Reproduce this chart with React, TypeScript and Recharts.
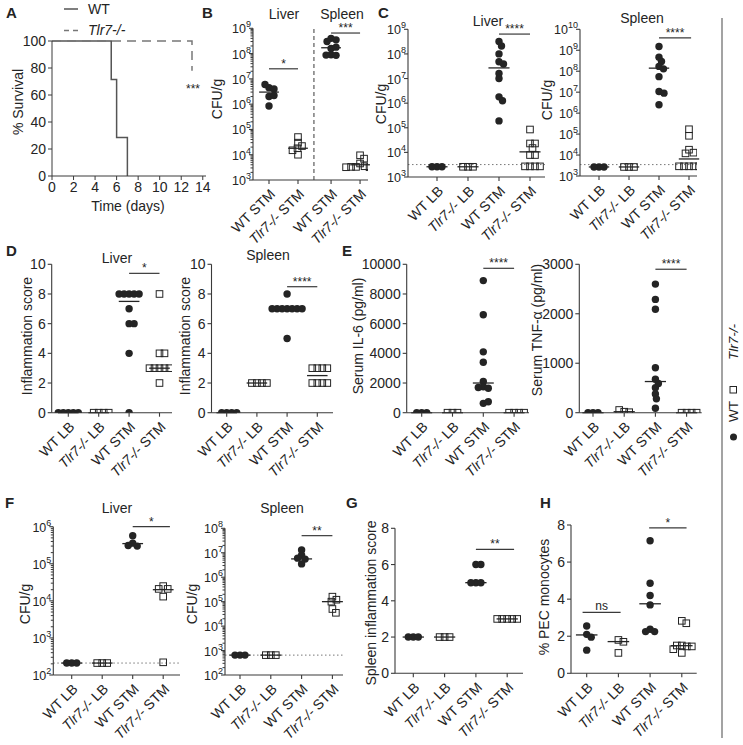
import React from 'react';
import { ScatterChart, Scatter, XAxis, YAxis, ReferenceLine, LineChart, Line } from 'recharts';

const W = 743;
const H = 745;
const FONT = '"Liberation Sans", Arial, Helvetica, sans-serif';
const INK = '#242424';
const AXIS = '#3a3a3a';

// ---------- category / tick labels ----------
const labelsFour = ['WT LB', 'Tlr7-/- LB', 'WT STM', 'Tlr7-/- STM'];
const labelsB = ['WT STM', 'Tlr7-/- STM', 'WT STM', 'Tlr7-/- STM'];
const survivalXTicks = [0, 2, 4, 6, 8, 10, 12, 14];
const survivalYTicks = [0, 20, 40, 60, 80, 100];
const scoreTicks10 = [0, 2, 4, 6, 8, 10];
const scoreTicks8 = [0, 2, 4, 6, 8];
const il6Ticks = [0, 2000, 4000, 6000, 8000, 10000];
const tnfTicks = [0, 1000, 2000, 3000];
const cfuMajors3to9 = [1e3, 1e4, 1e5, 1e6, 1e7, 1e8, 1e9];
const cfuMajors3to10 = [1e3, 1e4, 1e5, 1e6, 1e7, 1e8, 1e9, 1e10];
const cfuMajors2to6 = [1e2, 1e3, 1e4, 1e5, 1e6];
const cfuMajors2to8 = [1e2, 1e3, 1e4, 1e5, 1e6, 1e7, 1e8];

// ---------- A: survival ----------
const survivalWT = [
  { t: 0, s: 100 }, { t: 5.5, s: 100 }, { t: 5.5, s: 71.4 }, { t: 6, s: 71.4 },
  { t: 6, s: 28.6 }, { t: 7, s: 28.6 }, { t: 7, s: 0 },
];
const survivalKO = [{ t: 0, s: 100 }, { t: 13, s: 100 }, { t: 13, s: 78 }];

// ---------- B ----------
const bLiverWT = [4.5e6, 4.0e6, 6.0e6, 2.0e6, 2.2e6, 0.85e6];
const bLiverKO = [5e4, 3e4, 2.2e4, 1.8e4, 1.5e4, 1.0e4];
const bSpleenWT = [4e8, 3.5e8, 3e8, 1.6e8, 1.8e8, 9e7, 8.5e7, 8.7e7];
const bSpleenKO = [9.5e3, 7e3, 4.5e3, 3.5e3, 3.3e3, 3.3e3, 3.2e3, 3.2e3];
const bMedians = [3.0e6, 1.8e4, 1.7e8, 4.0e3];
const bSig = [
  { from: 0, to: 1, y: 2.5e7, text: '*' },
  { from: 2.14, to: 3.14, y: 6.5e8, text: '***' },
];

// ---------- C ----------
const cLiverWTLB = [2.6e3, 2.6e3, 2.6e3];
const cLiverKOLB = [2.6e3, 2.6e3, 2.6e3];
const cLiverWTSTM = [3.2e8, 2.1e8, 1.0e8, 4.8e7, 3.9e7, 1.6e7, 1.0e7, 1.8e6, 1.26e6, 1.9e5];
const cLiverKOSTM = [8.5e4, 2.3e4, 2.3e4, 1.5e4, 7.8e3, 7.8e3, 2.7e3, 2.7e3, 2.7e3, 2.7e3];
const cLiverMedians = [2.6e3, 2.6e3, 2.7e7, 1.05e4];
const cLiverLimit = 3.2e3;
const cLiverSig = [{ from: 2, to: 3, y: 6.4e8, text: '****' }];

const cSpleenWTLB = [2.7e3, 2.7e3, 2.7e3];
const cSpleenKOLB = [2.7e3, 2.7e3, 2.7e3];
const cSpleenWTSTM = [1.5e9, 4.7e8, 2.9e8, 1.7e8, 1.3e8, 5.5e7, 1.07e7, 9e6, 2.5e6];
const cSpleenKOSTM = [1.7e5, 8.3e4, 1.8e4, 1.3e4, 1.2e4, 2.9e3, 2.9e3, 2.9e3, 2.9e3, 2.9e3];
const cSpleenMedians = [2.7e3, 2.7e3, 1.4e8, 6.5e3];
const cSpleenLimit = 3.5e3;
const cSpleenSig = [{ from: 2, to: 3.07, y: 3.9e9, text: '****' }];

// ---------- D ----------
const dLiverWTLB = [0, 0, 0, 0, 0];
const dLiverKOLB = [0, 0, 0, 0];
const dLiverWTSTM = [8, 8, 8, 8, 8, 7, 6, 6, 4, 0];
const dLiverKOSTM = [8, 4, 4, 3, 3, 3, 3, 3, 2];
const dLiverMedians = [0, 0, 7.5, 3];
const dLiverSig = [{ from: 2, to: 3, y: 9.39, text: '*' }];

const dSpleenWTLB = [0, 0, 0, 0];
const dSpleenKOLB = [2, 2, 2, 2];
const dSpleenWTSTM = [8, 7, 7, 7, 7, 7, 7, 7, 5];
const dSpleenKOSTM = [3, 3, 3, 3, 2, 2, 2, 2];
const dSpleenMedians = [0, 2, 7, 2.5];
const dSpleenSig = [{ from: 2, to: 3, y: 8.49, text: '****' }];

// ---------- E ----------
const il6WTLB = [0, 0, 0];
const il6KOLB = [0, 0, 0];
const il6WTSTM = [8900, 6600, 4100, 3400, 2100, 1750, 1650, 1700, 630, 740];
const il6KOSTM = [0, 0, 0, 0];
const il6Medians = [0, 0, 2000, 0];
const il6Sig = [{ from: 2, to: 3, y: 9730, text: '****' }];

const tnfWTLB = [0, 0, 0];
const tnfKOLB = [20, 10, 55];
const tnfWTSTM = [2600, 2290, 2090, 910, 675, 590, 505, 380, 280, 90];
const tnfKOSTM = [0, 0, 0, 0];
const tnfMedians = [0, 20, 630, 0];
const tnfSig = [{ from: 2, to: 3, y: 2900, text: '****' }];

// ---------- F ----------
const fLiverWTLB = [2.1e2, 2.1e2, 2.1e2];
const fLiverKOLB = [2.1e2, 2.1e2, 2.1e2];
const fLiverWTSTM = [5.7e5, 3.6e5, 3.0e5, 3.1e5];
const fLiverKOSTM = [2.5e4, 2.1e4, 2.1e4, 1.3e4, 2.2e2];
const fLiverMedians = [2.1e2, 2.1e2, 3.5e5, 2.0e4];
const fLiverLimit = 2.1e2;
const fLiverSig = [{ from: 2, to: 3.22, y: 1e6, text: '*' }];

const fSpleenWTLB = [6.5e2, 6.5e2, 6.5e2];
const fSpleenKOLB = [6.5e2, 6.5e2, 6.5e2];
const fSpleenWTSTM = [1.3e7, 8e6, 5.5e6, 6e6, 3.5e6];
const fSpleenKOSTM = [1.6e5, 1.2e5, 1e5, 5e4, 3.5e4];
const fSpleenMedians = [6.5e2, 6.5e2, 5.6e6, 1e5];
const fSpleenLimit = 6.5e2;
const fSpleenSig = [{ from: 2, to: 3, y: 5e7, text: '**' }];

// ---------- G ----------
const gWTLB = [2, 2, 2];
const gKOLB = [2, 2, 2];
const gWTSTM = [6, 6, 5, 5, 5];
const gKOSTM = [3, 3, 3, 3, 3];
const gMedians = [2, 2, 5, 3];
const gSig = [{ from: 2, to: 3.22, y: 6.84, text: '**' }];

// ---------- H ----------
const hWTLB = [2.55, 2.1, 1.95, 1.25];
const hKOLB = [1.8, 1.7, 1.1];
const hWTSTM = [7.15, 4.86, 4.2, 3.69, 2.38, 2.25, 2.25];
const hKOSTM = [2.83, 2.7, 1.5, 1.45, 1.5, 1.3, 1.1, 1.45];
const hMedians = [2.07, 1.71, 3.75, 1.49];
const hSig = [
  { from: -0.13, to: 1.07, y: 3.29, text: 'ns' },
  { from: 1.97, to: 3.15, y: 7.85, text: '*' },
];

// ---------- layout helpers ----------
type Sig = { from: number; to: number; y: number; text: string };
type Panel = {
  left: number; right: number; top: number; bottom: number;
  first: number; sp: number; catPos: number[];
  log: boolean; yMin: number; yMax: number; ticks: number[]; minor?: boolean;
  labels: string[]; groups: number[][]; medians: number[]; limit?: number;
  sig: Sig[]; sep?: number;
};

function withMinors(majors: number[]): number[] {
  const out: number[] = [];
  majors.forEach((m, i) => {
    out.push(m);
    if (i < majors.length - 1) for (let k = 2; k <= 9; k++) out.push(m * k);
  });
  return out;
}

function swarm(values: number[], toPx: (v: number) => number, d: number): number[] {
  const placed: { x: number; y: number }[] = [];
  return values.map((v) => {
    const y = toPx(v);
    for (let k = 0; k < 600; k++) {
      const dx = (k % 2 === 1 ? 1 : -1) * Math.ceil(k / 2) * 0.5;
      if (placed.every((p) => (p.x - dx) ** 2 + (p.y - y) ** 2 >= d * d)) {
        placed.push({ x: dx, y });
        return dx;
      }
    }
    return 0;
  });
}

const DotShape = (p: any) => <circle cx={p.cx + (p.payload?.dx || 0)} cy={p.cy} r={3.7} fill={INK} />;
const SquareShape = (p: any) => (
  <rect x={p.cx + (p.payload?.dx || 0) - 3.3} y={p.cy - 3.3} width={6.6} height={6.6} fill="none" stroke={INK} strokeWidth={1} />
);

function labelContent(lab: string) {
  if (lab.startsWith('Tlr7-/-')) {
    return (
      <>
        <tspan fontStyle="italic">Tlr7-/-</tspan>
        <tspan>{lab.slice(7)}</tspan>
      </>
    );
  }
  return lab;
}

// axes need a non-zero size to be drawn, so one pixel is reserved for each
const AX = 1;
const TICK_FS = 14;
const LOG_FS = 12.5;

function StripChart({ p }: { p: Panel }) {
  const h = p.bottom - p.top;
  const l0 = Math.log10(p.yMin);
  const l1 = Math.log10(p.yMax);
  const toPx = (v: number) =>
    p.log ? p.bottom - ((Math.log10(v) - l0) / (l1 - l0)) * h : p.bottom - ((v - p.yMin) / (p.yMax - p.yMin)) * h;
  const wt: any[] = [];
  const ko: any[] = [];
  p.groups.forEach((vals, i) => {
    const dxs = swarm(vals, toPx, 5);
    vals.forEach((v, j) => (i % 2 === 0 ? wt : ko).push({ x: p.catPos[i], y: v, dx: dxs[j] }));
  });
  const xDomain = [(p.left - p.first) / p.sp, (p.right - p.first) / p.sp];
  const yTicks = p.log && p.minor ? withMinors(p.ticks) : p.ticks;

  const xTick = (props: any) => {
    const { x, payload } = props;
    const y = p.bottom;
    const idx = p.catPos.indexOf(payload.value);
    const lab = p.labels[idx] ?? '';
    return (
      <g transform={`translate(${x},${y})`}>
        <line x1={0} x2={0} y1={0} y2={4} stroke={AXIS} strokeWidth={1.1} />
        <text transform="translate(7,15) rotate(-45)" textAnchor="end" fontSize={TICK_FS} fill={INK} fontFamily={FONT}>
          {labelContent(lab)}
        </text>
      </g>
    );
  };
  const yTick = (props: any) => {
    const { y, payload } = props;
    const x = p.left;
    const v = payload.value;
    if (p.log) {
      const e = Math.log10(v);
      const major = Math.abs(e - Math.round(e)) < 1e-6;
      if (!major) return <line x1={x} x2={x - 2.5} y1={y} y2={y} stroke={AXIS} strokeWidth={1} />;
      return (
        <g>
          <line x1={x} x2={x - 4} y1={y} y2={y} stroke={AXIS} strokeWidth={1.1} />
          <text x={x - 2} y={y + 5} textAnchor="end" fontSize={LOG_FS} fill={INK} fontFamily={FONT}>
            10<tspan fontSize={9} dy={-6}>{Math.round(e)}</tspan>
          </text>
        </g>
      );
    }
    return (
      <g>
        <line x1={x} x2={x - 4} y1={y} y2={y} stroke={AXIS} strokeWidth={1.1} />
        <text x={x - 6} y={y + 5} textAnchor="end" fontSize={TICK_FS} fill={INK} fontFamily={FONT}>
          {String(v)}
        </text>
      </g>
    );
  };

  return (
    <div style={{ position: 'absolute', left: 0, top: 0 }}>
      <ScatterChart
        width={W}
        height={H}
        margin={{ left: p.left - AX, right: W - p.right, top: p.top, bottom: H - p.bottom - AX }}
      >
        <XAxis
          type="number"
          dataKey="x"
          domain={xDomain}
          ticks={p.catPos}
          interval={0}
          height={AX}
          tickSize={0}
          tickMargin={0}
          tickLine={false}
          tick={xTick}
          axisLine={{ stroke: AXIS, strokeWidth: 1.1 }}
          allowDataOverflow
        />
        <YAxis
          type="number"
          dataKey="y"
          scale={p.log ? 'log' : 'linear'}
          domain={[p.yMin, p.yMax]}
          ticks={yTicks}
          interval={0}
          width={AX}
          tickSize={0}
          tickMargin={0}
          tickLine={false}
          tick={yTick}
          axisLine={{ stroke: AXIS, strokeWidth: 1.1 }}
          allowDataOverflow
        />
        {p.limit !== undefined && (
          <ReferenceLine y={p.limit} stroke="#777" strokeDasharray="1.5 2.5" strokeWidth={1} ifOverflow="visible" />
        )}
        {p.sep !== undefined && (
          <ReferenceLine x={p.sep} stroke={AXIS} strokeDasharray="4 3" strokeWidth={1} ifOverflow="visible" />
        )}
        {p.medians.map((m, i) => (
          <ReferenceLine
            key={'m' + i}
            segment={[{ x: p.catPos[i] - 0.34, y: m }, { x: p.catPos[i] + 0.34, y: m }]}
            stroke={INK}
            strokeWidth={1.3}
            ifOverflow="visible"
          />
        ))}
        {p.sig.map((s, i) => (
          <ReferenceLine
            key={'s' + i}
            segment={[{ x: s.from, y: s.y }, { x: s.to, y: s.y }]}
            stroke={AXIS}
            strokeWidth={1.2}
            ifOverflow="visible"
            label={{ value: s.text, position: 'top', offset: s.text === 'ns' ? 2 : 1, fontSize: 12, fill: INK, fontFamily: FONT }}
          />
        ))}
        <Scatter data={wt} shape={DotShape} isAnimationActive={false} />
        <Scatter data={ko} shape={SquareShape} isAnimationActive={false} />
      </ScatterChart>
    </div>
  );
}

const panels: Panel[] = [
  {
    left: 253, right: 368, top: 28.3, bottom: 180, first: 269, sp: 29, catPos: [0, 1, 2.14, 3.14],
    log: true, yMin: 1e3, yMax: 1e9, ticks: cfuMajors3to9, minor: true, labels: labelsB,
    groups: [bLiverWT, bLiverKO, bSpleenWT, bSpleenKO], medians: bMedians, sig: bSig, sep: 1.55,
  },
  {
    left: 408, right: 545, top: 29.3, bottom: 177, first: 437, sp: 31, catPos: [0, 1, 2, 3],
    log: true, yMin: 1e3, yMax: 1e9, ticks: cfuMajors3to9, labels: labelsFour,
    groups: [cLiverWTLB, cLiverKOLB, cLiverWTSTM, cLiverKOSTM], medians: cLiverMedians, limit: cLiverLimit, sig: cLiverSig,
  },
  {
    left: 580, right: 697, top: 29.3, bottom: 176, first: 599, sp: 30, catPos: [0, 1, 2, 3],
    log: true, yMin: 1e3, yMax: 1e10, ticks: cfuMajors3to10, labels: labelsFour,
    groups: [cSpleenWTLB, cSpleenKOLB, cSpleenWTSTM, cSpleenKOSTM], medians: cSpleenMedians, limit: cSpleenLimit, sig: cSpleenSig,
  },
  {
    left: 51.7, right: 172, top: 264.3, bottom: 412.7, first: 68.3, sp: 30.4, catPos: [0, 1, 2, 3],
    log: false, yMin: 0, yMax: 10, ticks: scoreTicks10, labels: labelsFour,
    groups: [dLiverWTLB, dLiverKOLB, dLiverWTSTM, dLiverKOSTM], medians: dLiverMedians, sig: dLiverSig,
  },
  {
    left: 211.5, right: 333, top: 264.3, bottom: 412.7, first: 226.7, sp: 30.2, catPos: [0, 1, 2, 3],
    log: false, yMin: 0, yMax: 10, ticks: scoreTicks10, labels: labelsFour,
    groups: [dSpleenWTLB, dSpleenKOLB, dSpleenWTSTM, dSpleenKOSTM], medians: dSpleenMedians, sig: dSpleenSig,
  },
  {
    left: 406.7, right: 529, top: 264.3, bottom: 412.7, first: 421.7, sp: 30.8, catPos: [0, 1, 2, 3],
    log: false, yMin: 0, yMax: 10000, ticks: il6Ticks, labels: labelsFour,
    groups: [il6WTLB, il6KOLB, il6WTSTM, il6KOSTM], medians: il6Medians, sig: il6Sig,
  },
  {
    left: 579.3, right: 701.7, top: 264.3, bottom: 412.7, first: 593, sp: 31.2, catPos: [0, 1, 2, 3],
    log: false, yMin: 0, yMax: 3000, ticks: tnfTicks, labels: labelsFour,
    groups: [tnfWTLB, tnfKOLB, tnfWTSTM, tnfKOSTM], medians: tnfMedians, sig: tnfSig,
  },
  {
    left: 53.3, right: 180, top: 526.7, bottom: 675, first: 71.7, sp: 30.5, catPos: [0, 1, 2, 3],
    log: true, yMin: 1e2, yMax: 1e6, ticks: cfuMajors2to6, minor: true, labels: labelsFour,
    groups: [fLiverWTLB, fLiverKOLB, fLiverWTSTM, fLiverKOSTM], medians: fLiverMedians, limit: fLiverLimit, sig: fLiverSig,
  },
  {
    left: 225, right: 343, top: 528.3, bottom: 675, first: 240, sp: 30.8, catPos: [0, 1, 2, 3],
    log: true, yMin: 1e2, yMax: 1e8, ticks: cfuMajors2to8, minor: true, labels: labelsFour,
    groups: [fSpleenWTLB, fSpleenKOLB, fSpleenWTSTM, fSpleenKOSTM], medians: fSpleenMedians, limit: fSpleenLimit, sig: fSpleenSig,
  },
  {
    left: 395, right: 523, top: 528.3, bottom: 673.3, first: 413.3, sp: 31.3, catPos: [0, 1, 2, 3],
    log: false, yMin: 0, yMax: 8, ticks: scoreTicks8, labels: labelsFour,
    groups: [gWTLB, gKOLB, gWTSTM, gKOSTM], medians: gMedians, sig: gSig,
  },
  {
    left: 571, right: 696.7, top: 525, bottom: 673.3, first: 586.7, sp: 31.7, catPos: [0, 1, 2, 3],
    log: false, yMin: 0, yMax: 8, ticks: scoreTicks8, labels: labelsFour,
    groups: [hWTLB, hKOLB, hWTSTM, hKOSTM], medians: hMedians, sig: hSig,
  },
];

function SurvivalChart() {
  return (
    <div style={{ position: 'absolute', left: 0, top: 0 }}>
      <LineChart width={W} height={H} margin={{ left: 52 - AX, right: W - 206, top: 41, bottom: H - 176 - AX }}>
        <XAxis
          type="number"
          dataKey="t"
          domain={[0, 14.3]}
          ticks={survivalXTicks}
          interval={0}
          height={AX}
          tickSize={4}
          tickMargin={2}
          stroke={AXIS}
          tick={{ fontSize: TICK_FS, fill: INK, fontFamily: FONT }}
          allowDataOverflow
        />
        <YAxis
          type="number"
          domain={[0, 100]}
          ticks={survivalYTicks}
          interval={0}
          width={AX}
          tickSize={4}
          tickMargin={2}
          stroke={AXIS}
          tick={{ fontSize: TICK_FS, fill: INK, fontFamily: FONT }}
        />
        <Line data={survivalWT} dataKey="s" type="linear" dot={false} stroke="#555" strokeWidth={1.5} isAnimationActive={false} />
        <Line data={survivalKO} dataKey="s" type="linear" dot={false} stroke="#777" strokeWidth={1.5} strokeDasharray="9 6" isAnimationActive={false} />
      </LineChart>
    </div>
  );
}

const T = ({ x, y, children, size = 14, anchor = 'middle', bold = false, rot = 0 }: any) => (
  <text
    x={x}
    y={y}
    fontSize={size}
    textAnchor={anchor}
    fontWeight={bold ? 'bold' : 'normal'}
    fill={INK}
    fontFamily={FONT}
    transform={rot ? `rotate(${rot} ${x} ${y})` : undefined}
  >
    {children}
  </text>
);

function Overlay() {
  return (
    <svg width={W} height={H} style={{ position: 'absolute', left: 0, top: 0 }}>
      {/* A */}
      <T x={6} y={18} size={15} anchor="start" bold>A</T>
      <line x1={64} x2={78} y1={9} y2={9} stroke="#555" strokeWidth={1.5} />
      <T x={88} y={14} anchor="start">WT</T>
      <line x1={64} x2={78} y1={30.5} y2={30.5} stroke="#777" strokeWidth={1.5} strokeDasharray="5 4" />
      <T x={88} y={35} anchor="start"><tspan fontStyle="italic">Tlr7-/-</tspan></T>
      <T x={23} y={102} rot={-90}>% Survival</T>
      <T x={128} y={211}>Time (days)</T>
      <T x={193} y={93} size={12}>***</T>
      {/* B */}
      <T x={202} y={18} size={15} anchor="start" bold>B</T>
      <T x={284} y={19}>Liver</T>
      <T x={342} y={18.5}>Spleen</T>
      <T x={222} y={99} rot={-90}>CFU/g</T>
      {/* C */}
      <T x={378} y={18} size={15} anchor="start" bold>C</T>
      <T x={488} y={26}>Liver</T>
      <T x={386} y={104} rot={-90}>CFU/g</T>
      <T x={642} y={23}>Spleen</T>
      <T x={552} y={100} rot={-90}>CFU/g</T>
      {/* D */}
      <T x={6} y={256} size={15} anchor="start" bold>D</T>
      <T x={117} y={263}>Liver</T>
      <T x={32} y={336} rot={-90}>Inflammation score</T>
      <T x={190} y={336} rot={-90}>Inflammation score</T>
      <T x={268} y={260}>Spleen</T>
      {/* E */}
      <T x={342} y={256} size={15} anchor="start" bold>E</T>
      <T x={363} y={336} rot={-90}>Serum IL-6 (pg/ml)</T>
      <T x={542} y={330} rot={-90}>Serum TNF-α (pg/ml)</T>
      {/* F */}
      <T x={5} y={508} size={15} anchor="start" bold>F</T>
      <T x={117} y={513}>Liver</T>
      <T x={30} y={604} rot={-90}>CFU/g</T>
      <T x={197} y={604} rot={-90}>CFU/g</T>
      <T x={282} y={513}>Spleen</T>
      {/* G */}
      <T x={346} y={508} size={15} anchor="start" bold>G</T>
      <T x={376} y={603} rot={-90}>Spleen inflammation score</T>
      {/* H */}
      <T x={540} y={508} size={15} anchor="start" bold>H</T>
      <T x={549} y={597} rot={-90}>% PEC monocytes</T>
      {/* right legend */}
      <line x1={722} x2={722} y1={18} y2={738} stroke="#666" strokeWidth={1.2} />
      <g transform="translate(738,437) rotate(-90)">
        <circle cx={0} cy={-4.5} r={3.5} fill={INK} />
        <text x={15} y={0} fontSize={13.5} fill={INK} fontFamily={FONT}>WT</text>
        <rect x={44} y={-8} width={6.5} height={6.5} fill="none" stroke={INK} strokeWidth={1} />
        <text x={77} y={0} fontSize={13.5} fill={INK} fontFamily={FONT} fontStyle="italic">Tlr7-/-</text>
      </g>
    </svg>
  );
}

export default function App() {
  return (
    <div style={{ position: 'absolute', left: 0, top: 0, width: W, height: H, background: '#fff', fontFamily: FONT, overflow: 'hidden' }}>
      <SurvivalChart />
      {panels.map((p, i) => (
        <StripChart key={i} p={p} />
      ))}
      <Overlay />
    </div>
  );
}
